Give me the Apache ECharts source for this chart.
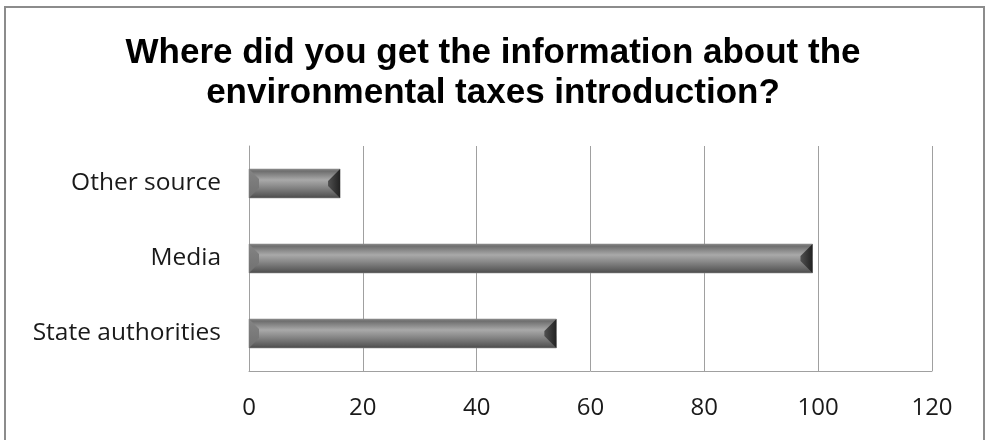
<!DOCTYPE html>
<html>
<head>
<meta charset="utf-8">
<script src="https://cdn.jsdelivr.net/npm/echarts@6/dist/echarts.min.js"></script>
<style>
  html, body { margin: 0; padding: 0; background: #fff; }
  #chart { width: 986px; height: 440px; }
</style>
</head>
<body>
<div id="chart"></div>
<script>
// Survey answers: source of information about the environmental taxes
const categories = ['State authorities', 'Media', 'Other source'];
const values = [54, 99, 16];
const xTicks = { min: 0, max: 120, interval: 20 };

const chart = echarts.init(document.getElementById('chart'));

// Bevelled bar: flat face with a vertical sheen plus slanted end caps
function renderBevelBar(params, api) {
  const idx = api.value(1);
  const val = api.value(0);
  const start = api.coord([0, idx]);
  const end = api.coord([val, idx]);
  const band = api.size([0, 1])[1];
  const h = band * 0.385;
  const x0 = start[0], x1 = end[0];
  const y0 = start[1] - h / 2, y1 = start[1] + h / 2;
  const bl = Math.min(10, (x1 - x0) / 3);
  const br = Math.min(12, (x1 - x0) / 3);
  return {
    type: 'group',
    children: [
      {
        type: 'rect',
        shape: { x: x0, y: y0, width: x1 - x0, height: y1 - y0 },
        style: {
          fill: new echarts.graphic.LinearGradient(0, 0, 0, 1, [
            { offset: 0, color: '#8c8c8c' },
            { offset: 0.08, color: '#6e6e6e' },
            { offset: 0.38, color: '#a9a9a9' },
            { offset: 0.6, color: '#8a8a8a' },
            { offset: 0.9, color: '#5c5c5c' },
            { offset: 1, color: '#484848' }
          ]),
          stroke: '#8a8a8a',
          lineWidth: 0.6
        }
      },
      {
        type: 'polygon',
        shape: { points: [[x0, y0], [x0 + bl, y0 + bl], [x0 + bl, y1 - bl], [x0, y1]] },
        style: {
          fill: new echarts.graphic.LinearGradient(0, 0, 0, 1, [
            { offset: 0, color: '#848484' },
            { offset: 1, color: '#707070' }
          ])
        }
      },
      {
        type: 'polygon',
        shape: { points: [[x1, y0], [x1 - br, y0 + br], [x1 - br, y1 - br], [x1, y1]] },
        style: {
          fill: new echarts.graphic.LinearGradient(0, 0, 1, 0, [
            { offset: 0, color: '#505050' },
            { offset: 1, color: '#222222' }
          ])
        }
      }
    ]
  };
}

chart.setOption({
  animation: false,
  backgroundColor: '#ffffff',
  graphic: [
    {
      type: 'rect',
      shape: { x: 5, y: 7, width: 979, height: 450 },
      style: { fill: 'none', stroke: '#8c8c8c', lineWidth: 2 },
      silent: true,
      z: 0
    }
  ],
  title: {
    text: 'Where did you get the information about the\nenvironmental taxes introduction?',
    left: 'center',
    top: 28,
    textStyle: {
      fontFamily: '"Liberation Sans", Arial, sans-serif',
      fontWeight: 'bold',
      fontSize: 35,
      lineHeight: 40,
      color: '#000000'
    }
  },
  grid: { left: 249, right: 54, top: 146, bottom: 69, containLabel: false },
  xAxis: {
    type: 'value',
    min: xTicks.min,
    max: xTicks.max,
    interval: xTicks.interval,
    axisLine: { show: true, lineStyle: { color: '#a0a0a0', width: 1 } },
    axisTick: { show: false },
    splitLine: { show: true, lineStyle: { color: '#a0a0a0', width: 1 } },
    axisLabel: {
      margin: 25,
      fontFamily: '"Open Sans", sans-serif',
      fontSize: 24,
      color: '#1a1a1a'
    }
  },
  yAxis: {
    type: 'category',
    data: categories,
    axisLine: { show: true, lineStyle: { color: '#a0a0a0', width: 1 } },
    axisTick: { show: false },
    axisLabel: {
      margin: 28,
      fontFamily: '"Open Sans", sans-serif',
      fontSize: 24.5,
      color: '#1a1a1a'
    }
  },
  series: [
    {
      type: 'custom',
      renderItem: renderBevelBar,
      encode: { x: 0, y: 1 },
      data: values.map((v, i) => [v, i])
    }
  ]
});
</script>
</body>
</html>
